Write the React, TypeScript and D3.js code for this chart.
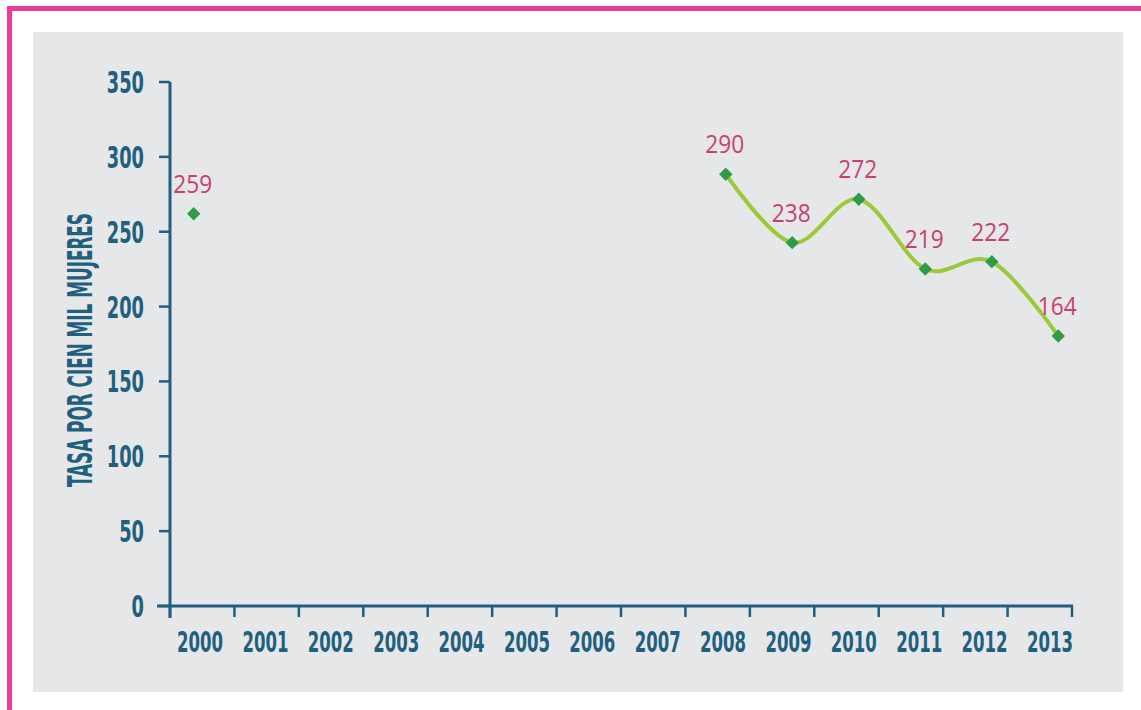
import React from "react";
import * as d3 from "d3";

const years = ["2000","2001","2002","2003","2004","2005","2006","2007","2008","2009","2010","2011","2012","2013"];
const pointYears = ["2000","2008","2009","2010","2011","2012","2013"];
const plotted = [262, 288.4, 242.7, 271.7, 225.1, 230, 180.3];
const labels = ["259","290","238","272","219","222","164"];
const yTicks = [0, 50, 100, 150, 200, 250, 300, 350];
const yTitle = "TASA POR CIEN MIL MUJERES";

const AXIS = "#215f7f";
const LABEL = "#c8416d";
const LINE = "#9cc93a";
const MARK = "#2e9b47";
const FONT = "'DejaVu Sans Condensed', 'DejaVu Sans', sans-serif";

export default function App() {
  const W = 1141, H = 710;
  const y = d3.scaleLinear().domain([0, 350]).range([606, 82]);
  const band = d3.scaleBand().domain(years).range([170, 1072]);
  const labelX = d3.scalePoint().domain(years).range([200, 1050]);
  const px = d3.scalePoint().domain(years).range([193.7, 1058.3]);

  const pts: [number, number][] = pointYears.map((yr, i) => [px(yr)!, y(plotted[i])]);
  const linePts = pts.slice(1);
  const line = d3.line().curve(d3.curveCardinal.tension(0))(linePts) || "";
  const diamond = d3.symbol(d3.symbolSquare, 90)() || "";

  const tickXs = years.map((yr) => band(yr)!).concat([band.range()[1]]);

  return (
    <svg width={W} height={H} style={{ position: "absolute", left: 0, top: 0 }}>
      <rect x={0} y={0} width={W} height={H} fill="#ffffff" />
      <rect x={7} y={6} width={W - 7} height={5} fill="#ec3c94" />
      <rect x={7} y={6} width={5} height={H - 6} fill="#ec3c94" />
      <rect x={33} y={32} width={1090} height={660} fill="#e6e7e9" />

      {/* y axis */}
      <line x1={170} x2={170} y1={y(350)} y2={618} stroke={AXIS} strokeWidth={3} />
      {yTicks.map((t) => (
        <g key={t}>
          <line x1={159} x2={170} y1={y(t)} y2={y(t)} stroke={AXIS} strokeWidth={2.5} />
          <text x={144} y={y(t) + 11} textAnchor="end" fill={AXIS} fontFamily={FONT} fontWeight="bold"
            fontSize={31} textLength={String(t).length * 12.4} lengthAdjust="spacingAndGlyphs">{t}</text>
        </g>
      ))}
      <text transform={`translate(92,350) rotate(-90)`} textAnchor="middle" fill={AXIS} fontFamily={FONT}
        fontWeight="bold" fontSize={33} textLength={274} lengthAdjust="spacingAndGlyphs">{yTitle}</text>

      {/* x axis */}
      <line x1={157} x2={1073} y1={y(0)} y2={y(0)} stroke={AXIS} strokeWidth={3} />
      {tickXs.map((x, i) => (
        <line key={i} x1={x} x2={x} y1={y(0)} y2={617} stroke={AXIS} strokeWidth={2.5} />
      ))}
      {years.map((yr) => (
        <text key={yr} x={labelX(yr)} y={652} textAnchor="middle" fill={AXIS} fontFamily={FONT}
          fontWeight="bold" fontSize={28} textLength={46} lengthAdjust="spacingAndGlyphs">{yr}</text>
      ))}

      {/* line */}
      <path d={line} fill="none" stroke={LINE} strokeWidth={4} strokeLinecap="round" />
      {pts.map(([x, yy], i) => (
        <path key={i} d={diamond} transform={`translate(${x},${yy}) rotate(45)`} fill={MARK} />
      ))}
      {pts.map(([x, yy], i) => (
        <text key={"l" + i} x={x - 1} y={yy - 21} textAnchor="middle" fill={LABEL}
          fontFamily="'Open Sans', sans-serif" fontSize={26} textLength={39}
          lengthAdjust="spacingAndGlyphs">{labels[i]}</text>
      ))}
    </svg>
  );
}
